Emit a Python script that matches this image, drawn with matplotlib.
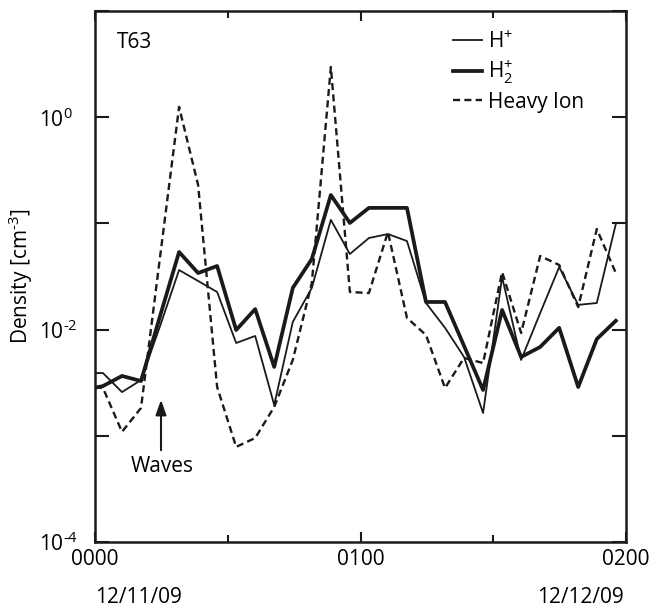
import matplotlib
matplotlib.use('Agg')
import matplotlib.pyplot as plt
from matplotlib.ticker import FixedLocator, NullLocator, FixedFormatter

plt.rcParams['font.family'] = ['Open Sans', 'DejaVu Sans']
plt.rcParams['mathtext.fontset'] = 'custom'
plt.rcParams['mathtext.rm'] = 'Open Sans'
plt.rcParams['mathtext.it'] = 'Open Sans'
plt.rcParams['mathtext.default'] = 'regular'

# ---- data (minutes after 0000 UT, density cm^-3) ----
time_min = [-2.5, 1.8, 6.1, 10.4, 14.7, 19.0, 23.3, 27.6, 31.9, 36.2, 40.5, 44.7,
            49.0, 53.3, 57.6, 61.9, 66.2, 70.5, 74.8, 79.1, 83.4, 87.7, 92.0,
            96.3, 100.6, 104.9, 109.2, 113.4, 117.7]
h_plus = [3.9e-3, 3.9e-3, 2.58e-3, 3.35e-3, 1.08e-2, 3.64e-2, 2.87e-2, 2.26e-2,
          7.48e-3, 8.71e-3, 1.95e-3, 1.18e-2, 2.47e-2, 1.08e-1, 5.15e-2, 7.28e-2,
          7.94e-2, 6.82e-2, 1.78e-2, 1.04e-2, 5.52e-3, 1.64e-3, 3.13e-2, 5.18e-3,
          1.43e-2, 3.88e-2, 1.71e-2, 1.78e-2, 9.86e-2]
h2_plus = [2.70e-3, 2.94e-3, 3.66e-3, 3.28e-3, 1.34e-2, 5.38e-2, 3.41e-2, 3.97e-2,
           9.91e-3, 1.56e-2, 4.45e-3, 2.47e-2, 4.62e-2, 1.85e-1, 1.01e-1, 1.40e-1,
           1.40e-1, 1.40e-1, 1.82e-2, 1.82e-2, 7.02e-3, 2.70e-3, 1.53e-2, 5.52e-3,
           6.86e-3, 1.04e-2, 2.88e-3, 8.15e-3, 1.21e-2]
heavy_ion = [3.01e-3, 2.82e-3, 1.09e-3, 1.83e-3, 4.83e-2, 1.25, 2.30e-1, 2.88e-3,
             7.86e-4, 9.53e-4, 1.87e-3, 5.18e-3, 2.75e-2, 2.97, 2.26e-2, 2.21e-2,
             8.30e-2, 1.29e-2, 8.89e-3, 2.82e-3, 5.41e-3, 4.84e-3, 3.48e-2, 9.29e-3,
             4.93e-2, 4.06e-2, 1.63e-2, 8.85e-2, 3.41e-2]

series_labels = ['H$^{+}$', 'H$_{2}^{+}$', 'Heavy Ion']
x_ticks = [0, 60, 120]
x_tick_labels = ['0000', '0100', '0200']
x_minor_ticks = [30, 90]
y_ticks = [1e-4, 1e-3, 1e-2, 1e-1, 1e0, 1e1]
y_tick_labels = ['10$^{\u20104}$', '', '10$^{\u20102}$', '', '10$^{0}$', '']
date_labels = ['12/11/09', '12/12/09']

W, H = 649, 607
fig = plt.figure(figsize=(W / 100, H / 100), dpi=100)
ax = fig.add_axes([95 / W, 1 - 542 / H, (626 - 95) / W, (542 - 11) / H])

FS = 15
INK = '#1a1a1a'
ax.plot(time_min, h_plus, color=INK, lw=1.3, label=series_labels[0])
ax.plot(time_min, h2_plus, color=INK, lw=2.7, label=series_labels[1])
ax.plot(time_min, heavy_ion, color=INK, lw=1.7, linestyle=(0, (3.0, 1.8)),
        label=series_labels[2])

ax.set_yscale('log')
ax.set_xlim(0, 120)
ax.set_ylim(1e-4, 1e1)

ax.xaxis.set_major_locator(FixedLocator(x_ticks))
ax.xaxis.set_major_formatter(FixedFormatter(x_tick_labels))
ax.xaxis.set_minor_locator(FixedLocator(x_minor_ticks))
ax.yaxis.set_major_locator(FixedLocator(y_ticks))
ax.yaxis.set_major_formatter(FixedFormatter(y_tick_labels))
ax.yaxis.set_minor_locator(NullLocator())

ax.tick_params(axis='x', which='major', direction='in', length=7, width=1.5,
               top=True, labelsize=FS, pad=5, color=INK)
ax.tick_params(axis='x', which='minor', direction='in', length=5, width=1.5,
               top=True, color=INK)
ax.tick_params(axis='y', which='major', direction='in', length=10, width=1.5,
               right=True, labelsize=FS, pad=40, color=INK)
for lab in ax.get_yticklabels():
    lab.set_horizontalalignment('left')

for s in ax.spines.values():
    s.set_linewidth(1.8)
    s.set_color(INK)

ax.set_ylabel('Density [cm$^{\u20103}$]', fontsize=FS, va='center')
ax.yaxis.set_label_coords((21 - 95) / 531, 0.5)

ax.text((117 - 95) / 531, (542 - 42) / 531, 'T63', transform=ax.transAxes,
        fontsize=FS, ha='left', va='center')

ax.annotate('', xy=((161 - 95) / 531, (542 - 397) / 531),
            xytext=((161 - 95) / 531, (542 - 453) / 531),
            xycoords='axes fraction', textcoords='axes fraction',
            arrowprops=dict(arrowstyle='-|>,head_length=0.9,head_width=0.32',
                            lw=1.5, color=INK))
ax.text((162 - 95) / 531, (542 - 466) / 531, 'Waves', transform=ax.transAxes,
        fontsize=FS, ha='center', va='center')

leg = ax.legend(loc='upper left', bbox_to_anchor=((453 - 95) / 531, (542 - 31) / 531),
                frameon=False, fontsize=FS, handlelength=1.4, handletextpad=0.3,
                labelspacing=0.28, borderpad=0, borderaxespad=0)

fig.text(95 / W, (H - 603) / H, date_labels[0], fontsize=FS, ha='left', va='baseline')
fig.text(624 / W, (H - 603) / H, date_labels[1], fontsize=FS, ha='right', va='baseline')

fig.savefig('out.png', dpi=100)
